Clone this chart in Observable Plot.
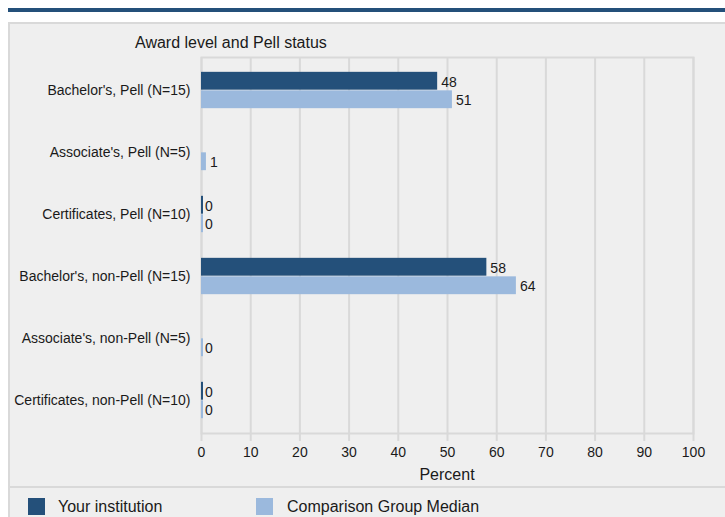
<!DOCTYPE html>
<html><head><meta charset="utf-8">
<script src="https://cdn.jsdelivr.net/npm/d3@7"></script>
<script src="https://cdn.jsdelivr.net/npm/@observablehq/plot@0.6"></script>
<style>
html,body{margin:0;padding:0;background:#fff;font-family:"Liberation Sans",Arial,sans-serif;}
#page{position:relative;width:725px;height:517px;overflow:hidden;}
#topbar{position:absolute;left:8px;top:8px;width:717px;height:4px;background:#24507a;}
#panel{position:absolute;left:8px;top:22px;width:740px;height:520px;background:#efefef;border:2px solid #d9d9d9;box-sizing:border-box;}
#sep{position:absolute;left:8px;top:486px;width:717px;height:2px;background:#d9d9d9;}
#chart{position:absolute;left:0;top:0;}
.t{position:absolute;font-size:16px;line-height:16px;color:#1a1a1a;white-space:nowrap;}
.sw{position:absolute;width:17px;height:17px;top:498px;}
</style>
</head>
<body>
<div id="page">
  <div id="topbar"></div>
  <div id="panel"></div>
  <div id="sep"></div>
  <div id="chart"></div>
  <div class="t" id="title" style="left:135px;top:34.5px;"></div>
  <div class="t" id="xlabel" style="left:447px;top:467px;transform:translateX(-50%);"></div>
  <div id="legend"></div>
</div>
<script>
// ---- data ----
const chartTitle = "Award level and Pell status";
const xLabel = "Percent";
const categories = [
  "Bachelor's, Pell (N=15)",
  "Associate's, Pell (N=5)",
  "Certificates, Pell (N=10)",
  "Bachelor's, non-Pell (N=15)",
  "Associate's, non-Pell (N=5)",
  "Certificates, non-Pell (N=10)"
];
const seriesNames = ["Your institution", "Comparison Group Median"];
const yourInstitution = [48, null, 0, 58, null, 0];
const comparisonMedian = [51, 1, 0, 64, 0, 0];
const xTicks = [0, 10, 20, 30, 40, 50, 60, 70, 80, 90, 100];
const seriesColors = ["#24507a", "#9bb9dd"];

// ---- table ----
const rows = [];
categories.forEach((c, i) => {
  if (yourInstitution[i] != null) rows.push({category: c, series: seriesNames[0], value: yourInstitution[i]});
  if (comparisonMedian[i] != null) rows.push({category: c, series: seriesNames[1], value: comparisonMedian[i]});
});

const W = 725, H = 487, mT = 57, mB = 54, mL = 201, mR = 32;
const band = (H - mT - mB) / categories.length;
const half = band / 2;
const barH = 18.5;

function seriesMarks(si) {
  const s = seriesNames[si];
  const data = rows.filter(d => d.series === s);
  const top = si === 0 ? half - barH : half;
  const bottom = si === 0 ? half : half - barH;
  return [
    Plot.barX(data.filter(d => d.value !== 0), {x: "value", y: "category", fill: seriesColors[si], insetTop: top, insetBottom: bottom}),
    Plot.barX(data.filter(d => d.value === 0), {x: "value", y: "category", fill: seriesColors[si], insetTop: top, insetBottom: bottom, insetRight: -2}),
    Plot.text(data, {x: "value", y: "category", text: d => String(d.value), textAnchor: "start", dx: 3.5, dy: si === 0 ? -8 : 10, fill: "#1a1a1a", fontSize: 14})
  ];
}

const chart = Plot.plot({
  width: W, height: H,
  marginTop: mT, marginBottom: mB, marginLeft: mL, marginRight: mR,
  style: {background: "transparent", fontFamily: "'Liberation Sans', Arial, sans-serif", fontSize: "14px", color: "#1a1a1a", overflow: "visible"},
  x: {domain: [0, 100]},
  y: {domain: categories, padding: 0},
  marks: [
    Plot.gridX(xTicks, {stroke: "#d9d9d9", strokeOpacity: 1, strokeWidth: 2}),
    Plot.frame({stroke: "#d9d9d9", strokeWidth: 2}),
    Plot.axisX(xTicks, {tickSize: 8, tickPadding: 6, stroke: "#d9d9d9", strokeWidth: 2, fill: "#1a1a1a", label: null}),
    Plot.axisY({tickSize: 0, tickPadding: 11, fill: "#1a1a1a", label: null}),
    ...seriesMarks(0),
    ...seriesMarks(1)
  ]
});
document.getElementById("chart").appendChild(chart);
document.getElementById("title").textContent = chartTitle;
document.getElementById("xlabel").textContent = xLabel;

const legend = document.getElementById("legend");
const legendX = [[28, 58], [256, 287]];
seriesNames.forEach((s, i) => {
  const sw = document.createElement("div");
  sw.className = "sw";
  sw.style.left = legendX[i][0] + "px";
  sw.style.background = seriesColors[i];
  legend.appendChild(sw);
  const t = document.createElement("div");
  t.className = "t";
  t.style.left = legendX[i][1] + "px";
  t.style.top = "499px";
  t.textContent = s;
  legend.appendChild(t);
});
</script>
</body></html>
